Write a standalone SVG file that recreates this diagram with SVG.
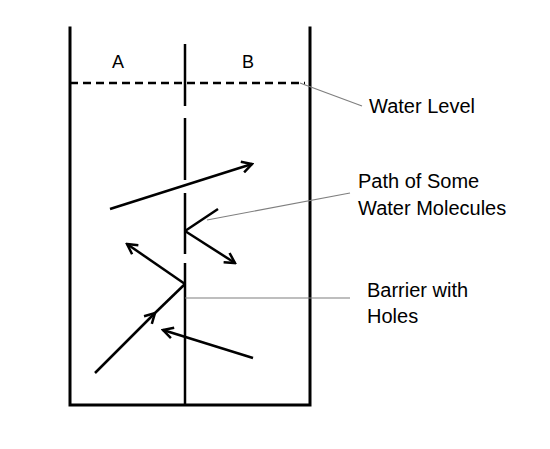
<svg xmlns="http://www.w3.org/2000/svg" width="550" height="449" viewBox="0 0 550 449">
  <style>
    .wall { stroke: #000; stroke-width: 3; fill: none; stroke-linecap: square; }
    .bar { stroke: #000; stroke-width: 2.5; fill: none; }
    .arr { stroke: #000; stroke-width: 2.5; fill: none; }
    .lead { stroke: #7f7f7f; stroke-width: 1.2; fill: none; }
    .lbl { font-family: "Liberation Sans", Arial, sans-serif; font-size: 20px; fill: #000; }
    .ab { font-family: "Liberation Sans", Arial, sans-serif; font-size: 18px; fill: #000; text-anchor: middle; }
  </style>
  <defs>
    <marker id="ah" markerUnits="userSpaceOnUse" markerWidth="14" markerHeight="14" viewBox="0 0 14 14" refX="12" refY="7" orient="auto">
      <path d="M2,1.5 L12,7 L2,12.5" stroke="#000" stroke-width="2.5" fill="none"/>
    </marker>
  </defs>
  <g id="container">
    <path class="wall" d="M70,28 L70,405 L310,405 L310,28"/>
  </g>
  <g id="water-level">
    <line x1="70" y1="83" x2="305" y2="83" stroke="#000" stroke-width="2.5" stroke-dasharray="8,5"/>
  </g>
  <g id="barrier">
    <line class="bar" x1="185" y1="44" x2="185" y2="106"/>
    <line class="bar" x1="185" y1="118" x2="185" y2="180"/>
    <line class="bar" x1="185" y1="193" x2="185" y2="254"/>
    <line class="bar" x1="185" y1="263" x2="185" y2="405"/>
  </g>
  <g id="label-A"><text class="ab" x="118" y="68">A</text></g>
  <g id="label-B"><text class="ab" x="248" y="68">B</text></g>
  <g id="label-water-level"><text class="lbl" x="369" y="113">Water Level</text></g>
  <g id="label-path">
    <text class="lbl" x="358" y="188">Path of Some</text>
    <text class="lbl" x="358" y="215">Water Molecules</text>
  </g>
  <g id="label-barrier">
    <text class="lbl" x="367" y="297">Barrier with</text>
    <text class="lbl" x="367" y="323">Holes</text>
  </g>
  <g id="connectors">
    <line class="lead" x1="300" y1="83" x2="362" y2="106"/>
    <line class="lead" x1="207" y1="220" x2="350" y2="193"/>
    <line class="lead" x1="185" y1="298" x2="350" y2="298"/>
    <line class="arr" x1="110" y1="209" x2="252" y2="164" marker-end="url(#ah)"/>
    <line class="arr" x1="218" y1="209" x2="185" y2="231"/>
    <line class="arr" x1="185" y1="231" x2="235" y2="263" marker-end="url(#ah)"/>
    <line class="arr" x1="95" y1="373" x2="155" y2="313" marker-end="url(#ah)"/>
    <line class="arr" x1="155" y1="313" x2="185" y2="284"/>
    <line class="arr" x1="185" y1="284" x2="127" y2="244" marker-end="url(#ah)"/>
    <line class="arr" x1="253" y1="358" x2="163" y2="330" marker-end="url(#ah)"/>
  </g>
</svg>
